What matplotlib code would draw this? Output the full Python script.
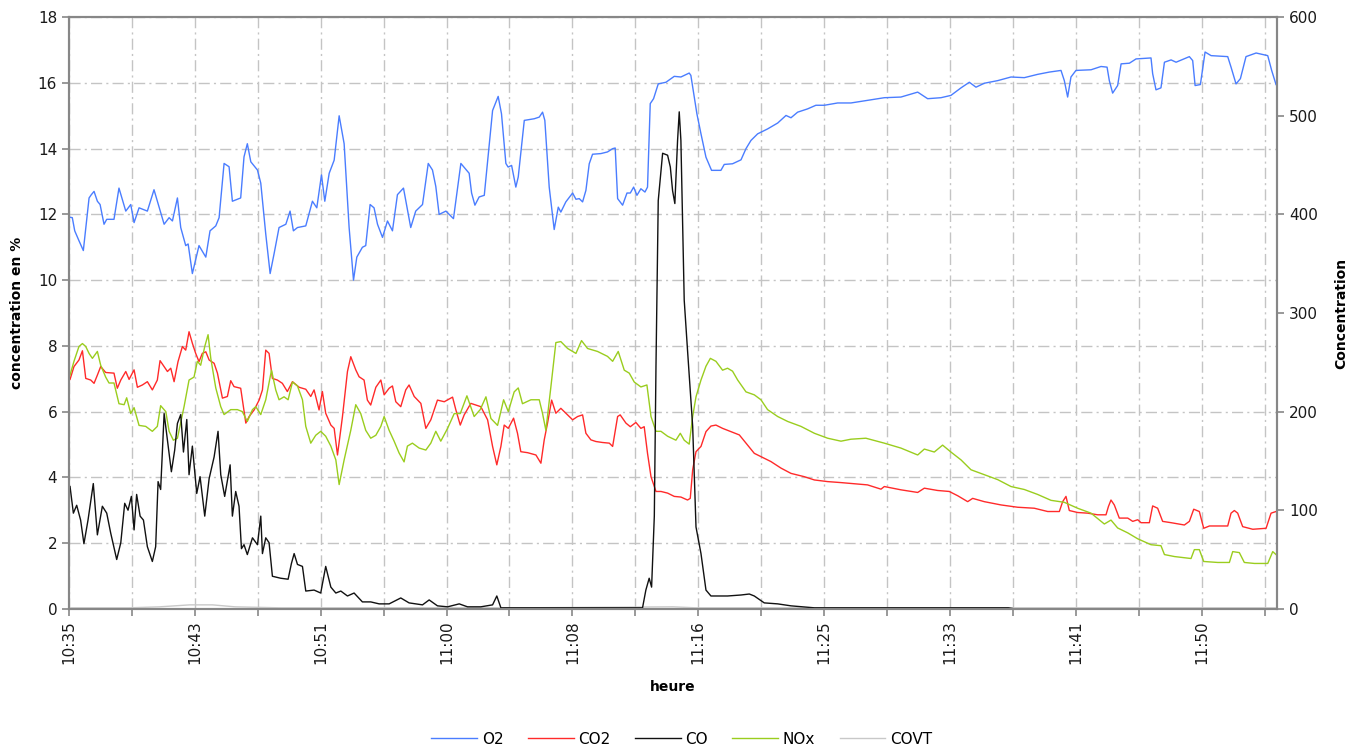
import matplotlib
matplotlib.use("Agg")
import matplotlib.pyplot as plt
from matplotlib.ticker import MultipleLocator, FixedLocator

# time in minutes after 10:35
# O2 and CO2 in % (left axis), CO / NOx / COVT on right axis
o2_points = [
    (0.0, 11.92), (0.22, 11.9), (0.38, 11.5), (0.66, 11.2), (0.95, 10.9), (1.33, 12.5), (1.48, 12.6),
    (1.66, 12.7), (1.88, 12.4), (2.06, 12.3), (2.32, 11.7), (2.50, 11.85), (2.98, 11.85), (3.31, 12.8),
    (3.76, 12.1), (4.09, 12.3), (4.31, 11.75), (4.64, 12.2), (5.19, 12.1), (5.63, 12.75), (6.30, 11.7),
    (6.63, 11.9), (6.85, 11.8), (7.18, 12.5), (7.40, 11.6), (7.73, 11.05), (7.89, 11.1), (8.17, 10.2),
    (8.61, 11.05), (9.06, 10.7), (9.34, 11.5), (9.72, 11.65), (9.94, 11.9), (10.27, 13.55), (10.60, 13.45),
    (10.82, 12.4), (11.37, 12.5), (11.59, 13.75), (11.81, 14.15), (12.04, 13.6), (12.48, 13.35),
    (12.70, 12.95), (13.03, 11.4), (13.32, 10.2), (13.58, 10.8), (13.91, 11.6), (14.36, 11.7),
    (14.64, 12.1), (14.86, 11.5), (15.13, 11.6), (15.68, 11.65), (16.12, 12.4), (16.41, 12.2),
    (16.72, 13.2), (16.94, 12.4), (17.23, 13.25), (17.56, 13.65), (17.89, 15.0), (18.22, 14.15),
    (18.55, 11.6), (18.84, 10.0), (19.06, 10.7), (19.43, 11.0), (19.65, 11.05), (19.94, 12.3),
    (20.20, 12.2), (20.43, 11.7), (20.76, 11.3), (21.09, 11.8), (21.42, 11.5), (21.75, 12.6),
    (22.15, 12.8), (22.63, 11.6), (22.96, 12.1), (23.41, 12.3), (23.79, 13.55), (24.07, 13.35),
    (24.29, 12.85), (24.51, 12.0), (24.96, 12.1), (25.46, 11.87), (25.95, 13.55), (26.50, 13.25),
    (26.66, 12.65), (26.88, 12.28), (27.16, 12.53), (27.50, 12.58), (28.05, 15.16), (28.42, 15.59),
    (28.64, 15.06), (28.93, 13.55), (29.08, 13.44), (29.31, 13.49), (29.59, 12.83), (29.75, 13.14),
    (30.15, 14.86), (30.81, 14.91), (31.14, 14.96), (31.36, 15.11), (31.51, 14.86), (31.80, 12.83),
    (32.13, 11.54), (32.40, 12.22), (32.57, 12.07), (32.90, 12.38), (33.35, 12.65), (33.57, 12.46),
    (33.79, 12.48), (34.01, 12.38), (34.23, 12.73), (34.45, 13.54), (34.67, 13.83), (35.22, 13.85),
    (35.66, 13.9), (36.00, 14.0), (36.17, 14.02), (36.33, 12.48), (36.66, 12.28), (36.95, 12.65),
    (37.17, 12.65), (37.39, 12.83), (37.61, 12.58), (37.87, 12.78), (38.14, 12.68), (38.31, 12.83),
    (38.49, 15.37), (38.71, 15.52), (39.02, 15.97), (39.53, 16.02), (40.08, 16.2), (40.52, 16.18),
    (41.07, 16.3), (41.18, 16.23), (41.58, 15.06), (41.85, 14.45), (42.18, 13.74), (42.55, 13.34),
    (43.17, 13.34), (43.39, 13.52), (43.94, 13.54), (44.50, 13.66), (44.83, 14.0), (45.16, 14.25),
    (45.60, 14.45), (46.26, 14.6), (46.93, 14.78), (47.48, 15.01), (47.81, 14.94), (48.25, 15.11),
    (48.91, 15.21), (49.46, 15.32), (50.02, 15.32), (50.90, 15.39), (51.78, 15.39), (52.88, 15.47),
    (53.99, 15.55), (55.09, 15.57), (56.20, 15.72), (56.86, 15.52), (57.74, 15.55), (58.40, 15.62),
    (59.07, 15.85), (59.62, 16.02), (60.06, 15.87), (60.61, 15.99), (61.50, 16.07), (62.38, 16.18),
    (63.26, 16.16), (64.14, 16.26), (64.92, 16.33), (65.69, 16.38), (65.91, 16.07), (66.13, 15.57),
    (66.35, 16.18), (66.68, 16.38), (67.68, 16.4), (68.34, 16.5), (68.74, 16.48), (68.89, 16.07),
    (69.11, 15.69), (69.44, 15.92), (69.67, 16.58), (70.22, 16.6), (70.66, 16.73), (71.65, 16.76),
    (71.76, 16.28), (71.98, 15.79), (72.31, 15.85), (72.54, 16.63), (72.98, 16.7), (73.31, 16.63),
    (74.19, 16.8), (74.41, 16.68), (74.57, 15.92), (74.92, 15.95), (75.23, 16.94), (75.63, 16.83),
    (76.73, 16.8), (76.95, 16.48), (77.28, 15.97), (77.57, 16.13), (77.94, 16.8), (78.61, 16.91),
    (79.38, 16.83), (79.64, 16.38), (79.93, 15.95),
]

co2_points = [
    (0.07, 6.98), (0.33, 7.37), (0.66, 7.57), (0.89, 7.85), (1.11, 7.01), (1.44, 6.96), (1.66, 6.86),
    (1.88, 7.11), (2.10, 7.37), (2.43, 7.19), (2.98, 7.17), (3.20, 6.71), (3.43, 6.96), (3.76, 7.22),
    (3.98, 6.98), (4.31, 7.27), (4.53, 6.74), (4.86, 6.81), (5.19, 6.91), (5.52, 6.66), (5.85, 6.96),
    (6.03, 7.55), (6.30, 7.37), (6.52, 7.22), (6.74, 7.32), (6.96, 6.91), (7.22, 7.52), (7.51, 7.98),
    (7.73, 7.87), (7.95, 8.43), (8.17, 8.08), (8.39, 7.77), (8.61, 7.52), (8.83, 7.77), (9.06, 7.82),
    (9.28, 7.57), (9.61, 7.47), (9.83, 7.17), (10.16, 6.41), (10.49, 6.46), (10.71, 6.94), (10.93, 6.76),
    (11.37, 6.71), (11.71, 5.65), (11.93, 5.85), (12.26, 6.05), (12.59, 6.35), (12.81, 6.66),
    (13.03, 7.87), (13.25, 7.77), (13.47, 7.01), (13.80, 6.96), (14.13, 6.86), (14.46, 6.61),
    (14.80, 6.91), (15.24, 6.74), (15.68, 6.68), (16.01, 6.46), (16.23, 6.66), (16.56, 6.05),
    (16.78, 6.61), (17.00, 5.95), (17.34, 5.59), (17.56, 5.49), (17.78, 4.68), (18.11, 5.85),
    (18.44, 7.22), (18.66, 7.67), (18.99, 7.27), (19.21, 7.06), (19.54, 6.96), (19.76, 6.35),
    (19.98, 6.2), (20.32, 6.74), (20.65, 6.96), (20.87, 6.51), (21.20, 6.71), (21.42, 6.78),
    (21.64, 6.3), (21.97, 6.15), (22.30, 6.66), (22.52, 6.81), (22.86, 6.46), (23.30, 6.25),
    (23.63, 5.49), (23.96, 5.75), (24.40, 6.35), (24.85, 6.3), (25.40, 6.44), (25.62, 6.05),
    (25.91, 5.59), (26.17, 5.90), (26.61, 6.25), (26.94, 6.2), (27.27, 6.15), (27.72, 5.75),
    (28.05, 4.94), (28.33, 4.38), (28.60, 4.94), (28.82, 5.59), (29.09, 5.49), (29.44, 5.80),
    (29.70, 5.34), (29.92, 4.78), (30.37, 4.75), (30.92, 4.68), (31.25, 4.43), (31.47, 5.14),
    (31.69, 5.65), (31.96, 6.35), (32.24, 5.95), (32.57, 6.10), (33.02, 5.90), (33.35, 5.75),
    (33.68, 5.85), (34.01, 5.90), (34.23, 5.34), (34.56, 5.14), (34.89, 5.09), (35.33, 5.06),
    (35.78, 5.04), (36.00, 4.94), (36.33, 5.85), (36.50, 5.90), (36.88, 5.65), (37.17, 5.54),
    (37.54, 5.67), (37.87, 5.49), (38.09, 5.54), (38.31, 4.73), (38.54, 4.02), (38.87, 3.57),
    (39.20, 3.57), (39.64, 3.52), (40.08, 3.42), (40.52, 3.40), (40.96, 3.31), (41.14, 3.36),
    (41.30, 4.23), (41.52, 4.78), (41.85, 4.94), (42.18, 5.39), (42.51, 5.56), (42.84, 5.59),
    (43.28, 5.49), (43.83, 5.39), (44.39, 5.29), (44.83, 5.04), (45.38, 4.73), (45.82, 4.63),
    (46.48, 4.48), (47.15, 4.28), (47.81, 4.12), (48.69, 4.02), (49.36, 3.92), (50.24, 3.87),
    (51.12, 3.84), (52.88, 3.77), (53.77, 3.64), (53.99, 3.72), (55.09, 3.62), (56.20, 3.54),
    (56.64, 3.67), (57.52, 3.60), (58.29, 3.57), (58.85, 3.44), (59.51, 3.26), (59.84, 3.36),
    (60.61, 3.26), (61.72, 3.16), (62.82, 3.09), (63.92, 3.06), (64.81, 2.96), (65.58, 2.96),
    (65.80, 3.26), (66.02, 3.42), (66.24, 2.99), (66.79, 2.93), (67.46, 2.91), (68.12, 2.86),
    (68.67, 2.86), (68.83, 3.11), (69.00, 3.31), (69.22, 3.16), (69.55, 2.76), (70.11, 2.76),
    (70.44, 2.66), (70.77, 2.71), (70.99, 2.62), (71.54, 2.62), (71.76, 3.13), (72.09, 3.06),
    (72.42, 2.66), (72.98, 2.62), (73.86, 2.55), (74.19, 2.66), (74.48, 3.03), (74.85, 2.96),
    (75.14, 2.45), (75.52, 2.52), (76.73, 2.52), (76.95, 2.91), (77.17, 2.99), (77.39, 2.91),
    (77.72, 2.50), (78.39, 2.42), (79.27, 2.45), (79.60, 2.91), (79.93, 2.96),
]

co_points = [
    (0.07, 124), (0.29, 97), (0.51, 105), (0.77, 90), (0.99, 66), (1.26, 90), (1.61, 127), (1.88, 75),
    (2.21, 104), (2.50, 97), (2.76, 77), (3.16, 50), (3.43, 67), (3.69, 107), (3.91, 100), (4.13, 114),
    (4.31, 80), (4.48, 116), (4.71, 94), (4.93, 90), (5.19, 63), (5.52, 48), (5.74, 63), (5.90, 129),
    (6.07, 121), (6.30, 198), (6.52, 171), (6.78, 139), (7.00, 161), (7.18, 188), (7.40, 197),
    (7.58, 159), (7.80, 192), (7.95, 136), (8.17, 165), (8.46, 117), (8.68, 134), (8.99, 94),
    (9.28, 132), (9.61, 154), (9.87, 180), (10.05, 136), (10.31, 114), (10.67, 146), (10.82, 94),
    (11.04, 119), (11.26, 104), (11.42, 61), (11.59, 65), (11.81, 55), (12.15, 72), (12.48, 65),
    (12.70, 94), (12.81, 56), (13.03, 72), (13.25, 67), (13.47, 33), (14.02, 31), (14.51, 30),
    (14.73, 46), (14.91, 56), (15.13, 45), (15.46, 43), (15.68, 18), (16.23, 19), (16.67, 16),
    (17.00, 43), (17.34, 22), (17.67, 16), (18.00, 18), (18.44, 13), (18.88, 16), (19.43, 7),
    (19.98, 7), (20.54, 5), (21.20, 5), (21.97, 11), (22.52, 6), (23.41, 4), (23.85, 9), (24.40, 3),
    (25.07, 2), (25.84, 5), (26.39, 2), (27.27, 2), (28.05, 4), (28.33, 13), (28.60, 1), (29.92, 1),
    (32.13, 1), (34.34, 1), (36.55, 1), (37.98, 1), (38.20, 19), (38.42, 31), (38.58, 22), (38.76, 94),
    (38.87, 246), (39.02, 414), (39.31, 462), (39.64, 460), (39.82, 448), (39.97, 424), (40.12, 411),
    (40.30, 475), (40.41, 504), (40.52, 475), (40.74, 313), (40.96, 262), (41.14, 222), (41.30, 185),
    (41.52, 83), (41.85, 56), (42.18, 19), (42.51, 13), (43.61, 13), (44.50, 14), (45.05, 15),
    (45.38, 13), (46.04, 6), (46.93, 5), (47.81, 3), (49.36, 1), (50.90, 1), (53.00, 1), (62.20, 1),
    (62.60, 0), (80.0, 0),
]

nox_points = [
    (0.07, 237), (0.33, 251), (0.66, 266), (0.89, 269), (1.11, 266), (1.33, 259), (1.55, 254),
    (1.88, 261), (2.10, 247), (2.43, 235), (2.65, 229), (2.98, 229), (3.31, 208), (3.65, 207),
    (3.82, 214), (4.09, 198), (4.31, 204), (4.64, 186), (5.08, 185), (5.52, 180), (5.85, 185),
    (6.07, 206), (6.41, 200), (6.63, 180), (6.91, 171), (7.18, 173), (7.62, 205), (7.95, 232),
    (8.28, 235), (8.50, 251), (8.72, 247), (8.99, 266), (9.21, 278), (9.39, 254), (9.72, 224),
    (10.05, 205), (10.27, 197), (10.71, 202), (11.15, 202), (11.48, 200), (11.81, 190), (12.15, 202),
    (12.37, 205), (12.70, 197), (13.03, 212), (13.41, 242), (13.69, 222), (13.91, 212), (14.24, 215),
    (14.51, 212), (14.80, 230), (15.13, 226), (15.46, 212), (15.68, 185), (16.01, 168), (16.34, 176),
    (16.67, 180), (17.00, 175), (17.34, 165), (17.67, 151), (17.89, 126), (18.22, 151), (18.66, 181),
    (18.99, 207), (19.32, 198), (19.65, 181), (19.98, 173), (20.32, 176), (20.65, 185), (20.87, 195),
    (21.20, 181), (21.53, 170), (21.86, 158), (22.19, 149), (22.41, 165), (22.74, 168), (23.19, 163),
    (23.63, 161), (23.96, 168), (24.29, 180), (24.62, 170), (25.07, 183), (25.51, 198), (25.91, 198),
    (26.35, 216), (26.83, 195), (27.23, 202), (27.61, 215), (27.94, 193), (28.38, 186), (28.78, 212),
    (29.09, 200), (29.48, 220), (29.75, 224), (30.03, 208), (30.59, 212), (31.14, 212), (31.36, 198),
    (31.58, 181), (31.91, 225), (32.24, 270), (32.57, 271), (33.02, 264), (33.57, 259), (33.94, 272),
    (34.34, 264), (35.00, 261), (35.66, 256), (36.00, 251), (36.37, 261), (36.77, 242), (37.10, 239),
    (37.43, 230), (37.87, 225), (38.27, 227), (38.54, 195), (38.87, 180), (39.20, 180), (39.64, 175),
    (40.19, 171), (40.48, 178), (40.74, 171), (41.07, 167), (41.30, 195), (41.52, 215), (41.85, 232),
    (42.18, 246), (42.47, 254), (42.84, 251), (43.28, 242), (43.61, 244), (43.94, 241), (44.28, 232),
    (44.83, 220), (45.38, 217), (45.82, 212), (46.26, 202), (46.93, 195), (47.59, 190), (48.47, 185),
    (49.36, 178), (50.24, 173), (51.12, 170), (51.78, 172), (52.77, 173), (53.99, 168), (55.09, 163),
    (56.20, 156), (56.64, 162), (57.30, 159), (57.85, 166), (58.40, 159), (59.07, 151), (59.73, 141),
    (60.61, 136), (61.50, 131), (62.38, 124), (63.26, 121), (64.14, 116), (65.03, 110), (65.91, 108),
    (66.79, 102), (67.68, 97), (68.56, 86), (69.00, 90), (69.44, 82), (70.11, 77), (70.77, 71),
    (71.65, 65), (72.31, 64), (72.54, 55), (73.20, 53), (74.30, 51), (74.52, 60), (74.85, 60),
    (75.14, 48), (76.07, 47), (76.84, 47), (77.06, 58), (77.50, 57), (77.83, 47), (78.50, 46),
    (79.38, 46), (79.71, 58), (79.93, 55),
]

covt_points = [
    (0.0, 1), (4.0, 1), (6.0, 2), (8.0, 4), (9.5, 4), (11.0, 2), (14.0, 1), (20.0, 1), (30.0, 1),
    (40.0, 2), (41.5, 1), (50.0, 1), (60.0, 1), (80.0, 1),
]

time_labels = ["10:35", "10:43", "10:51", "11:00", "11:08", "11:16", "11:25", "11:33", "11:41", "11:50"]
label_step = 500 / 60     # minutes between labelled ticks
grid_step = 250 / 60      # minutes between vertical grid lines

plt.rcParams['font.family'] = ['DejaVu Sans']

fig = plt.figure(figsize=(13.5, 7.47), dpi=100)
ax = fig.add_axes([0.0511, 0.185, 0.8949, 0.792])
ax2 = ax.twinx()

grid_kw = dict(color='#c4c4c4', linewidth=1.0, linestyle=(0, (8, 3, 1.5, 3)))
spine_col = '#878787'

def unzip(points):
    return [p[0] for p in points], [p[1] for p in points]

l_o2, = ax.plot(*unzip(o2_points), color='#4a7dff', lw=1.0, label='O2')
l_co2, = ax.plot(*unzip(co2_points), color='#ff2a2a', lw=1.0, label='CO2')
l_covt, = ax2.plot(*unzip(covt_points), color='#c8c8c8', lw=1.0, label='COVT')
l_nox, = ax2.plot(*unzip(nox_points), color='#9acd1e', lw=1.0, label='NOx')
l_co, = ax2.plot(*unzip(co_points), color='#111111', lw=1.0, label='CO')

ax.set_xlim(0, 80)
ax.set_ylim(0, 18)
ax2.set_ylim(0, 600)
ax.yaxis.set_major_locator(MultipleLocator(2))
ax2.yaxis.set_major_locator(MultipleLocator(100))

ax.xaxis.set_major_locator(FixedLocator([i * label_step for i in range(len(time_labels))]))
ax.set_xticklabels(time_labels, rotation=90)
ax.xaxis.set_minor_locator(FixedLocator([grid_step * (2 * i + 1) for i in range(10)]))

ax.set_axisbelow(True)
ax.grid(True, which='both', axis='x', **grid_kw)
ax.grid(True, which='major', axis='y', **grid_kw)

for a in (ax, ax2):
    for s in a.spines.values():
        s.set_color(spine_col)
        s.set_linewidth(1.5)
    a.tick_params(which='both', direction='out', length=5, width=1.2, color=spine_col,
                  labelsize=11, labelcolor='#1a1a1a')

ax.set_ylabel('concentration en %', fontsize=10, fontweight='bold', labelpad=10)
ax2.set_ylabel('Concentration', fontsize=10, fontweight='bold', labelpad=12)
ax.set_xlabel('heure', fontsize=10, fontweight='bold', labelpad=11)

fig.legend([l_o2, l_co2, l_co, l_nox, l_covt], ['O2', 'CO2', 'CO', 'NOx', 'COVT'],
           loc='lower center', bbox_to_anchor=(0.505, -0.018), ncol=5, frameon=False,
           fontsize=11, handlelength=3.0, handletextpad=0.3, columnspacing=1.6)

fig.savefig('out.png', dpi=100)
